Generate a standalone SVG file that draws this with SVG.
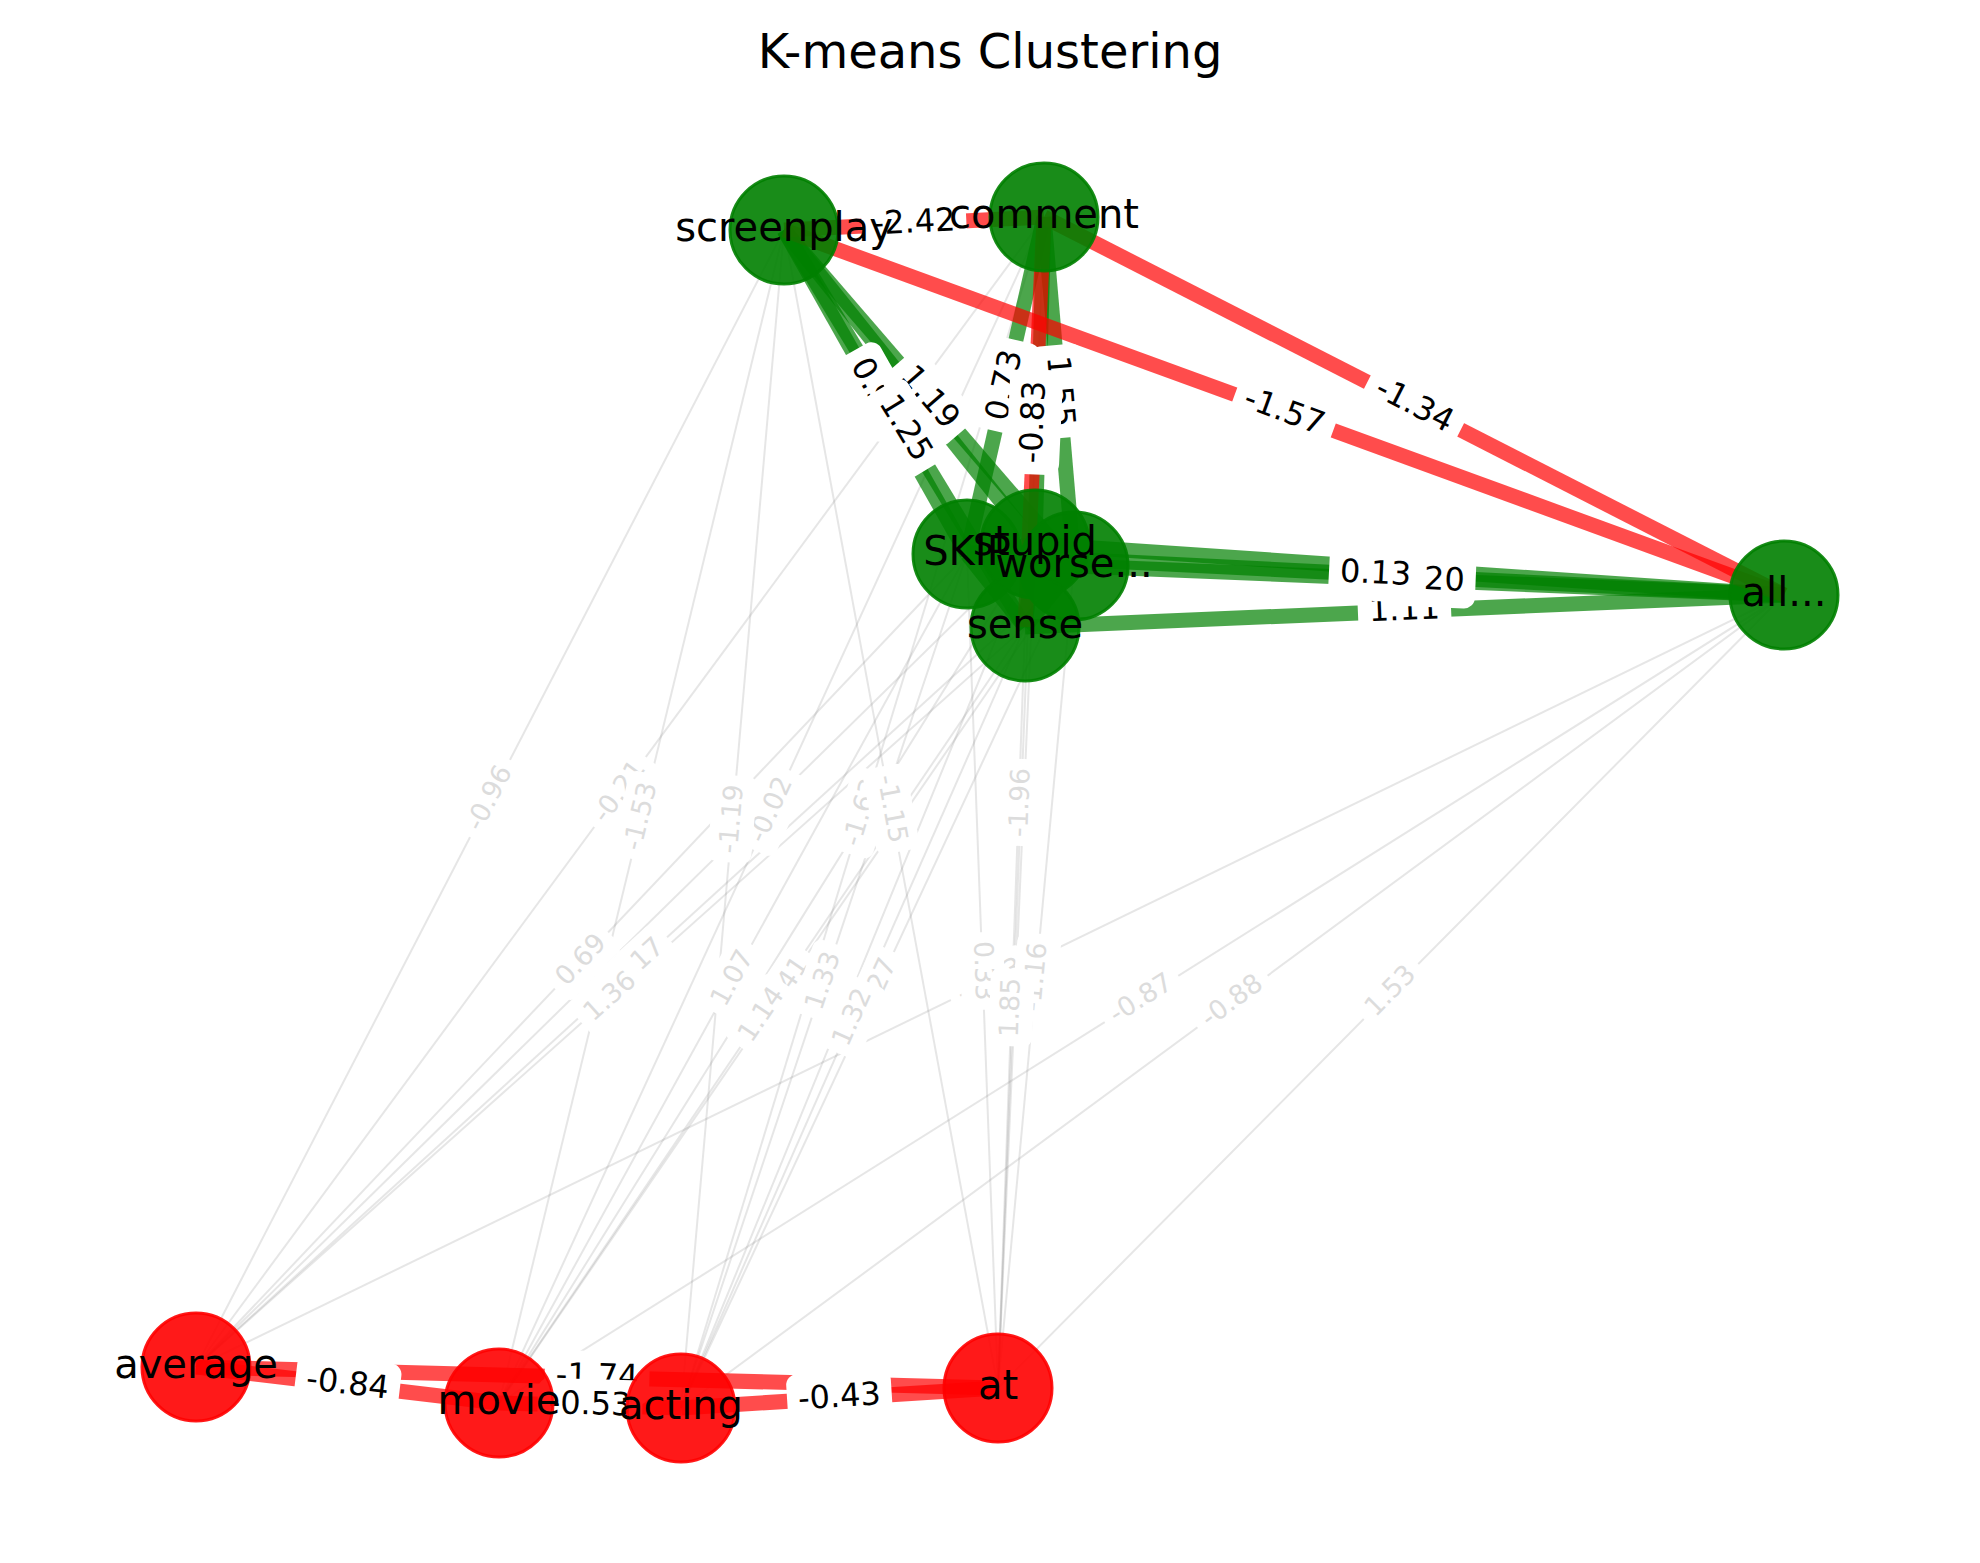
<svg xmlns="http://www.w3.org/2000/svg" width="1980" height="1563" viewBox="0 0 1980 1563">
<style>
text{font-family:"DejaVu Sans","Liberation Sans",sans-serif}
.ge{stroke:#808080;stroke-opacity:0.2;stroke-width:2;fill:none}
.pe{stroke:#008000;stroke-opacity:0.7;stroke-width:15;fill:none}
.ne{stroke:#ff0000;stroke-opacity:0.7;stroke-width:15;fill:none}
.lb rect{fill:#fff;stroke:#fff;stroke-width:2}
.lg text{fill:#dcdcdc;font-size:26.67px;text-anchor:middle}
.lc text{fill:#000;font-size:32px;text-anchor:middle}
.gn circle{fill:#008000;fill-opacity:0.9;stroke:#008000;stroke-opacity:0.9;stroke-width:3}
.rn circle{fill:#ff0000;fill-opacity:0.9;stroke:#ff0000;stroke-opacity:0.9;stroke-width:3}
.nl{font-size:40px;text-anchor:middle;fill:#000}
.title{font-size:48px;text-anchor:middle;fill:#000}
</style>
<rect width="1980" height="1563" fill="#fff"/>
<text class="title" x="990" y="68">K-means Clustering</text>
<g id="edges">
<g id="edges-cross">
<line class="ge" x1="784" y1="230" x2="196" y2="1367"/>
<line class="ge" x1="784" y1="230" x2="499" y2="1403"/>
<line class="ge" x1="784" y1="230" x2="681" y2="1408"/>
<line class="ge" x1="784" y1="230" x2="998" y2="1388"/>
<line class="ge" x1="1044" y1="217" x2="196" y2="1367"/>
<line class="ge" x1="1044" y1="217" x2="499" y2="1403"/>
<line class="ge" x1="1044" y1="217" x2="681" y2="1408"/>
<line class="ge" x1="1044" y1="217" x2="998" y2="1388"/>
<line class="ge" x1="967" y1="554" x2="196" y2="1367"/>
<line class="ge" x1="967" y1="554" x2="499" y2="1403"/>
<line class="ge" x1="967" y1="554" x2="681" y2="1408"/>
<line class="ge" x1="967" y1="554" x2="998" y2="1388"/>
<line class="ge" x1="1035" y1="544" x2="196" y2="1367"/>
<line class="ge" x1="1035" y1="544" x2="499" y2="1403"/>
<line class="ge" x1="1035" y1="544" x2="681" y2="1408"/>
<line class="ge" x1="1035" y1="544" x2="998" y2="1388"/>
<line class="ge" x1="1074" y1="566" x2="196" y2="1367"/>
<line class="ge" x1="1074" y1="566" x2="499" y2="1403"/>
<line class="ge" x1="1074" y1="566" x2="681" y2="1408"/>
<line class="ge" x1="1074" y1="566" x2="998" y2="1388"/>
<line class="ge" x1="1025" y1="627" x2="196" y2="1367"/>
<line class="ge" x1="1025" y1="627" x2="499" y2="1403"/>
<line class="ge" x1="1025" y1="627" x2="681" y2="1408"/>
<line class="ge" x1="1025" y1="627" x2="998" y2="1388"/>
<line class="ge" x1="1784" y1="595" x2="196" y2="1367"/>
<line class="ge" x1="1784" y1="595" x2="499" y2="1403"/>
<line class="ge" x1="1784" y1="595" x2="681" y2="1408"/>
<line class="ge" x1="1784" y1="595" x2="998" y2="1388"/>
</g>
<g id="edges-positive">
<line class="pe" x1="784" y1="230" x2="967" y2="554"/>
<line class="pe" x1="784" y1="230" x2="1035" y2="544"/>
<line class="pe" x1="784" y1="230" x2="1074" y2="566"/>
<line class="pe" x1="784" y1="230" x2="1025" y2="627"/>
<line class="pe" x1="1044" y1="217" x2="967" y2="554"/>
<line class="pe" x1="1044" y1="217" x2="1035" y2="544"/>
<line class="pe" x1="1044" y1="217" x2="1074" y2="566"/>
<line class="pe" x1="967" y1="554" x2="1035" y2="544"/>
<line class="pe" x1="967" y1="554" x2="1074" y2="566"/>
<line class="pe" x1="967" y1="554" x2="1025" y2="627"/>
<line class="pe" x1="967" y1="554" x2="1784" y2="595"/>
<line class="pe" x1="1035" y1="544" x2="1074" y2="566"/>
<line class="pe" x1="1035" y1="544" x2="1025" y2="627"/>
<line class="pe" x1="1035" y1="544" x2="1784" y2="595"/>
<line class="pe" x1="1074" y1="566" x2="1025" y2="627"/>
<line class="pe" x1="1074" y1="566" x2="1784" y2="595"/>
<line class="pe" x1="1025" y1="627" x2="1784" y2="595"/>
</g>
<g id="edges-negative">
<line class="ne" x1="784" y1="230" x2="1044" y2="217"/>
<line class="ne" x1="784" y1="230" x2="1784" y2="595"/>
<line class="ne" x1="1044" y1="217" x2="1784" y2="595"/>
<line class="ne" x1="1044" y1="217" x2="1025" y2="627"/>
<line class="ne" x1="196" y1="1367" x2="499" y2="1403"/>
<line class="ne" x1="196" y1="1367" x2="998" y2="1388"/>
<line class="ne" x1="499" y1="1403" x2="681" y2="1408"/>
<line class="ne" x1="681" y1="1408" x2="998" y2="1388"/>
</g>
</g>
<g id="edge-labels">
<g class="lb lg" transform="translate(990,981) rotate(-25.9)"><rect x="-42.5" y="-20.9" width="85" height="41.8" rx="8"/><text y="7.4">-1.03</text></g>
<g class="lb lg" transform="translate(620,792) rotate(-53.6)"><rect x="-42.5" y="-20.9" width="85" height="41.8" rx="8"/><text y="7.4">-0.21</text></g>
<g class="lb lg" transform="translate(771.5,810) rotate(-65.3)"><rect x="-42.5" y="-20.9" width="85" height="41.8" rx="8"/><text y="7.4">-0.02</text></g>
<g class="lb lg" transform="translate(862.5,812.5) rotate(-73.05)"><rect x="-42.5" y="-20.9" width="85" height="41.8" rx="8"/><text y="7.4">-1.63</text></g>
<g class="lb lg" transform="translate(1021,802.5) rotate(-87.75)"><rect x="-42.5" y="-20.9" width="85" height="41.8" rx="8"/><text y="7.4">-1.96</text></g>
<g class="lb lg" transform="translate(490,798.5) rotate(-62.65)"><rect x="-42.5" y="-20.9" width="85" height="41.8" rx="8"/><text y="7.4">-0.96</text></g>
<g class="lb lg" transform="translate(641.5,816.5) rotate(-76.3)"><rect x="-42.5" y="-20.9" width="85" height="41.8" rx="8"/><text y="7.4">-1.53</text></g>
<g class="lb lg" transform="translate(732.5,819) rotate(-85)"><rect x="-42.5" y="-20.9" width="85" height="41.8" rx="8"/><text y="7.4">-1.19</text></g>
<g class="lb lg" transform="translate(891,809) rotate(79.5)"><rect x="-42.5" y="-20.9" width="85" height="41.8" rx="8"/><text y="7.4">-1.15</text></g>
<g class="lb lg" transform="translate(635,966.5) rotate(-42.4)"><rect x="-42.5" y="-20.9" width="85" height="41.8" rx="8"/><text y="7.4">-1.17</text></g>
<g class="lb lg" transform="translate(877.5,987) rotate(-65)"><rect x="-37.7" y="-20.9" width="75.4" height="41.8" rx="8"/><text y="7.4">1.27</text></g>
<g class="lb lg" transform="translate(786.5,984.5) rotate(-55.5)"><rect x="-37.7" y="-20.9" width="75.4" height="41.8" rx="8"/><text y="7.4">1.41</text></g>
<g class="lb lg" transform="translate(1036,977) rotate(-84.7)"><rect x="-42.5" y="-20.9" width="85" height="41.8" rx="8"/><text y="7.4">-1.16</text></g>
<g class="lb lg" transform="translate(982.5,971) rotate(87.9)"><rect x="-37.7" y="-20.9" width="75.4" height="41.8" rx="8"/><text y="7.4">0.33</text></g>
<g class="lb lg" transform="translate(581.5,960.5) rotate(-46.5)"><rect x="-37.7" y="-20.9" width="75.4" height="41.8" rx="8"/><text y="7.4">0.69</text></g>
<g class="lb lg" transform="translate(733,978.5) rotate(-61.1)"><rect x="-37.7" y="-20.9" width="75.4" height="41.8" rx="8"/><text y="7.4">1.07</text></g>
<g class="lb lg" transform="translate(824,981) rotate(-71.5)"><rect x="-37.7" y="-20.9" width="75.4" height="41.8" rx="8"/><text y="7.4">1.33</text></g>
<g class="lb lg" transform="translate(610.5,997) rotate(-41.8)"><rect x="-37.7" y="-20.9" width="75.4" height="41.8" rx="8"/><text y="7.4">1.36</text></g>
<g class="lb lg" transform="translate(762,1015) rotate(-55.9)"><rect x="-37.7" y="-20.9" width="75.4" height="41.8" rx="8"/><text y="7.4">1.14</text></g>
<g class="lb lg" transform="translate(853,1017.5) rotate(-66.2)"><rect x="-37.7" y="-20.9" width="75.4" height="41.8" rx="8"/><text y="7.4">1.32</text></g>
<g class="lb lg" transform="translate(1011.5,1007.5) rotate(-88)"><rect x="-37.7" y="-20.9" width="75.4" height="41.8" rx="8"/><text y="7.4">1.85</text></g>
<g class="lb lg" transform="translate(1141.5,999) rotate(-32.2)"><rect x="-42.5" y="-20.9" width="85" height="41.8" rx="8"/><text y="7.4">-0.87</text></g>
<g class="lb lg" transform="translate(1232.5,1001.5) rotate(-36.4)"><rect x="-42.5" y="-20.9" width="85" height="41.8" rx="8"/><text y="7.4">-0.88</text></g>
<g class="lb lg" transform="translate(1391,991.5) rotate(-45.3)"><rect x="-37.7" y="-20.9" width="75.4" height="41.8" rx="8"/><text y="7.4">1.53</text></g>
<g class="lb lc" transform="translate(875.5,392) rotate(60.5)"><rect x="-45.6" y="-25.5" width="91.2" height="51" rx="10"/><text y="8.8">0.91</text></g>
<g class="lb lc" transform="translate(1005.5,385.5) rotate(-77.1)"><rect x="-45.6" y="-25.5" width="91.2" height="51" rx="10"/><text y="8.8">0.73</text></g>
<g class="lb lc" transform="translate(1059,391.5) rotate(85.1)"><rect x="-45.6" y="-25.5" width="91.2" height="51" rx="10"/><text y="8.8">1.55</text></g>
<g class="lb lc" transform="translate(1034.5,422) rotate(-87.35)"><rect x="-51.4" y="-25.5" width="102.8" height="51" rx="10"/><text y="8.8">-0.83</text></g>
<g class="lb lc" transform="translate(929,398) rotate(49.2)"><rect x="-45.6" y="-25.5" width="91.2" height="51" rx="10"/><text y="8.8">1.19</text></g>
<g class="lb lc" transform="translate(904.5,428.5) rotate(58.7)"><rect x="-45.6" y="-25.5" width="91.2" height="51" rx="10"/><text y="8.8">1.25</text></g>
<g class="lb lc" transform="translate(914,223.5) rotate(-2.86)"><rect x="-51.4" y="-25.5" width="102.8" height="51" rx="10"/><text y="8.8">-2.42</text></g>
<g class="lb lc" transform="translate(1284,412.5) rotate(20.05)"><rect x="-51.4" y="-25.5" width="102.8" height="51" rx="10"/><text y="8.8">-1.57</text></g>
<g class="lb lc" transform="translate(1414,406) rotate(27.06)"><rect x="-51.4" y="-25.5" width="102.8" height="51" rx="10"/><text y="8.8">-1.34</text></g>
<g class="lb lc" transform="translate(1404.5,611) rotate(-2.41)"><rect x="-45.6" y="-25.5" width="91.2" height="51" rx="10"/><text y="8.8">1.11</text></g>
<g class="lb lc" transform="translate(1429,580.5) rotate(2.34)"><rect x="-45.6" y="-25.5" width="91.2" height="51" rx="10"/><text y="8.8">1.20</text></g>
<g class="lb lc" transform="translate(1375.5,574.5) rotate(2.87)"><rect x="-45.6" y="-25.5" width="91.2" height="51" rx="10"/><text y="8.8">0.13</text></g>
<g class="lb lc" transform="translate(347.5,1385) rotate(6.78)"><rect x="-51.4" y="-25.5" width="102.8" height="51" rx="10"/><text y="8.8">-0.84</text></g>
<g class="lb lc" transform="translate(597,1377.5) rotate(1.5)"><rect x="-51.4" y="-25.5" width="102.8" height="51" rx="10"/><text y="8.8">-1.74</text></g>
<g class="lb lc" transform="translate(590,1405.5) rotate(1.57)"><rect x="-51.4" y="-25.5" width="102.8" height="51" rx="10"/><text y="8.8">-0.53</text></g>
<g class="lb lc" transform="translate(839.5,1398) rotate(-3.61)"><rect x="-51.4" y="-25.5" width="102.8" height="51" rx="10"/><text y="8.8">-0.43</text></g>
</g>
<g id="nodes">
<g id="node-screenplay" class="gn"><circle cx="784" cy="230" r="54"/></g>
<g id="node-comment" class="gn"><circle cx="1044" cy="217" r="54"/></g>
<g id="node-SKIP" class="gn"><circle cx="967" cy="554" r="54"/></g>
<g id="node-stupid" class="gn"><circle cx="1035" cy="544" r="54"/></g>
<g id="node-worse" class="gn"><circle cx="1074" cy="566" r="54"/></g>
<g id="node-sense" class="gn"><circle cx="1025" cy="627" r="54"/></g>
<g id="node-all" class="gn"><circle cx="1784" cy="595" r="54"/></g>
<g id="node-average" class="rn"><circle cx="196" cy="1367" r="54"/></g>
<g id="node-movie" class="rn"><circle cx="499" cy="1403" r="54"/></g>
<g id="node-acting" class="rn"><circle cx="681" cy="1408" r="54"/></g>
<g id="node-at" class="rn"><circle cx="998" cy="1388" r="54"/></g>
</g>
<g id="node-labels">
<text id="label-screenplay" class="nl" x="784" y="241">screenplay</text>
<text id="label-comment" class="nl" x="1044" y="228">comment</text>
<text id="label-SKIP" class="nl" x="967" y="565">SKIP</text>
<text id="label-stupid" class="nl" x="1035" y="555">stupid</text>
<text id="label-worse" class="nl" x="1074" y="577">worse...</text>
<text id="label-sense" class="nl" x="1025" y="638">sense</text>
<text id="label-all" class="nl" x="1784" y="606">all...</text>
<text id="label-average" class="nl" x="196" y="1378">average</text>
<text id="label-movie" class="nl" x="499" y="1414">movie</text>
<text id="label-acting" class="nl" x="681" y="1419">acting</text>
<text id="label-at" class="nl" x="998" y="1399">at</text>
</g>
</svg>
